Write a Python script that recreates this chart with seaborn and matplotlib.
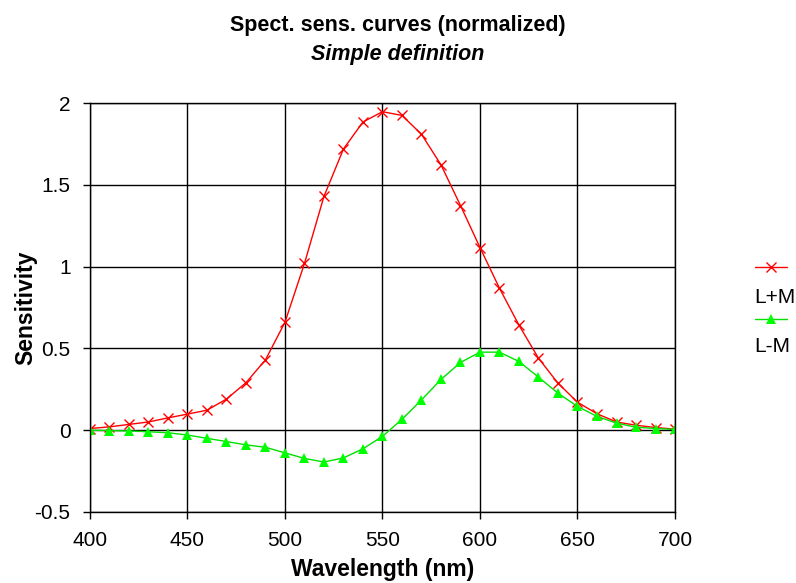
import pandas as pd
import matplotlib.pyplot as plt
import seaborn as sns
from matplotlib.lines import Line2D

# --- donnees ---
wavelength = list(range(400, 701, 10))
l_plus_m = [0.01, 0.02, 0.035, 0.05, 0.075, 0.098, 0.122, 0.19, 0.29, 0.43,
            0.66, 1.02, 1.43, 1.72, 1.885, 1.948, 1.925, 1.81, 1.623, 1.374,
            1.117, 0.868, 0.642, 0.44, 0.287, 0.171, 0.10, 0.05, 0.03, 0.016,
            0.006]
l_minus_m = [0.0, -0.003, -0.005, -0.01, -0.016, -0.03, -0.05, -0.07, -0.09, -0.105,
             -0.139, -0.173, -0.195, -0.17, -0.114, -0.038, 0.066, 0.185, 0.31, 0.414,
             0.477, 0.477, 0.42, 0.324, 0.226, 0.145, 0.084, 0.043, 0.018, 0.01,
             0.004]

df = pd.DataFrame({'Wavelength': wavelength, 'L+M': l_plus_m, 'L-M': l_minus_m})

sns.set_style("white")
plt.rcParams['font.family'] = ['Liberation Sans', 'DejaVu Sans']
plt.rcParams['text.color'] = 'black'
plt.rcParams['axes.labelcolor'] = 'black'
plt.rcParams['xtick.color'] = 'black'
plt.rcParams['ytick.color'] = 'black'

fig = plt.figure(figsize=(7.96, 5.83), dpi=100)
ax = fig.add_axes([0.113, 0.122, 0.735, 0.701])

sns.lineplot(data=df, x='Wavelength', y='L+M', ax=ax, color='#ff0000', lw=1,
             marker='x', markersize=6.5, markeredgewidth=1, markeredgecolor='#ff0000')
sns.lineplot(data=df, x='Wavelength', y='L-M', ax=ax, color='#00e000', lw=1,
             marker='^', markersize=7, markeredgewidth=0, markerfacecolor='#00ff00')

ax.set_xlim(400, 700)
ax.set_ylim(-0.5, 2)
ax.set_xticks(range(400, 701, 50))
ax.set_yticks([-0.5, 0, 0.5, 1, 1.5, 2])
ax.set_yticklabels(['-0.5', '0', '0.5', '1', '1.5', '2'])
ax.grid(True, color='black', lw=1)
for s in ax.spines.values():
    s.set_color('black')
    s.set_linewidth(1)
ax.tick_params(direction='out', length=5, width=1, color='black',
               labelsize=15, pad=9, left=True, bottom=True)
ax.set_xlabel('Wavelength (nm)', fontsize=16.5, fontweight='bold')
ax.set_ylabel('Sensitivity', fontsize=16.5, fontweight='bold')
ax.xaxis.set_label_coords(0.5, -0.114)
ax.yaxis.set_label_coords(-0.090, 0.5)

fig.text(0.5, 0.946, 'Spect. sens. curves (normalized)', ha='center', va='baseline',
         fontsize=15.5, fontweight='bold')
fig.text(0.5, 0.897, 'Simple definition', ha='center', va='baseline',
         fontsize=15.5, fontweight='bold', style='italic')

# legende facon Excel : echantillon au-dessus du libelle
fig.add_artist(Line2D([0.948, 0.968, 0.989], [0.542, 0.542, 0.542], color='#ff0000', lw=1,
                      marker='x', markevery=[1], markersize=6.5,
                      transform=fig.transFigure))
fig.text(0.948, 0.489, 'L+M', fontsize=15, va='center')
fig.add_artist(Line2D([0.948, 0.968, 0.989], [0.453, 0.453, 0.453], color='#00e000', lw=1,
                      marker='^', markevery=[1], markersize=7, markeredgewidth=0,
                      markerfacecolor='#00ff00', transform=fig.transFigure))
fig.text(0.948, 0.406, 'L-M', fontsize=15, va='center')

fig.savefig('out.png', dpi=100)
